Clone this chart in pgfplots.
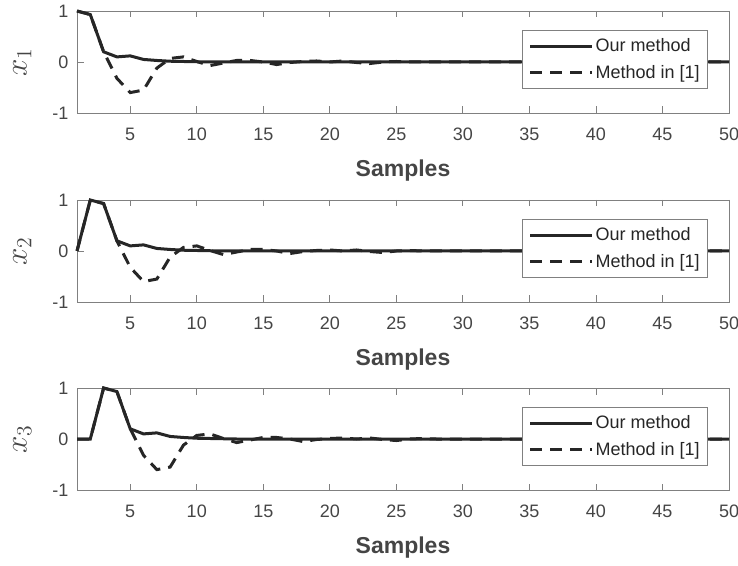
\documentclass[border=0pt]{standalone}
\usepackage{fontspec}
\setmainfont{Liberation Sans}
\usepackage{pgfplots}
\pgfplotsset{compat=1.18}
\definecolor{axgray}{gray}{0.5}
\definecolor{txtgray}{gray}{0.27}
\definecolor{linec}{gray}{0.15}

\pgfplotsset{
  myax/.style={
    scale only axis, width=652pt, height=102pt,
    xmin=1, xmax=50, ymin=-1, ymax=1,
    xtick={5,10,...,50}, ytick={-1,0,1},
    axis line style={axgray, line width=0.8pt},
    tick style={axgray, line width=0.8pt},
    major tick length=6.5pt,
    tick align=inside,
    ticklabel style={font=\fontsize{18}{20}\selectfont, text=txtgray},
    xticklabel style={yshift=-21pt, anchor=center},
    yticklabel style={xshift=-5pt},
    /pgf/number format/assume math mode=true,
    xlabel={Samples},
    xlabel style={font=\fontsize{23}{26}\selectfont\bfseries, text=txtgray,
      at={(axis description cs:0.5,0)}, anchor=center, yshift=-58pt},
    ylabel style={font=\fontsize{20}{24}\selectfont, scale=1.5, text=txtgray,
      at={(axis description cs:-0.084,0.5)}, anchor=center},
    clip=false,
    legend style={at={(0.968,0.814)}, anchor=north east, draw=axgray, fill=white,
      font=\fontsize{18}{20}\selectfont, text=linec, line width=0.8pt,
      inner xsep=6pt, inner ysep=6.5pt, row sep=8pt},
    legend cell align=left,
    legend image code/.code={\draw[##1] (0pt,0pt) -- (62pt,0pt);},
    anchor=south west,
  },
  solidl/.style={linec, line width=3pt, mark=none},
  dashl/.style={linec, line width=3pt, mark=none, dash pattern=on 12pt off 8pt},
}

\begin{document}
\begin{tikzpicture}
\useasboundingbox (0,0) rectangle (738pt,565pt);

% ---------- x1 ----------
\begin{axis}[myax, at={(77pt,452pt)}, ylabel={$x_1$}]
\addplot[solidl] coordinates {
(1,1) (2,0.93) (3,0.2) (4,0.1) (5,0.12) (6,0.05) (7,0.03) (8,0.015) (9,0.01) (10,0.005)
(11,0) (12,0) (13,0) (14,0) (15,0) (20,0) (25,0) (30,0) (35,0) (40,0) (45,0) (50,0)};
\addlegendentry{Our method}
\addplot[dashl] coordinates {
(1,1) (2,0.93) (3,0.2) (4,-0.32) (5,-0.6) (6,-0.55) (7,-0.12) (8,0.07) (9,0.1) (10,0.01)
(11,-0.07) (12,-0.02) (13,0.03) (14,0.03) (15,0) (16,-0.05) (17,-0.01) (18,0.01) (19,0.02)
(20,0) (21,0.02) (22,-0.01) (23,-0.03) (24,0) (25,0.01) (26,0) (30,0) (35,0) (40,0) (45,0) (50,0)};
\addlegendentry{Method in [1]}
\end{axis}

% ---------- x2 ----------
\begin{axis}[myax, at={(77pt,263pt)}, ylabel={$x_2$}]
\addplot[solidl] coordinates {
(1,0) (2,1) (3,0.93) (4,0.2) (5,0.1) (6,0.12) (7,0.05) (8,0.03) (9,0.015) (10,0.01) (11,0.005)
(12,0) (13,0) (14,0) (15,0) (20,0) (25,0) (30,0) (35,0) (40,0) (45,0) (50,0)};
\addlegendentry{Our method}
\addplot[dashl] coordinates {
(1,0) (2,1) (3,0.93) (4,0.2) (5,-0.32) (6,-0.6) (7,-0.55) (8,-0.12) (9,0.07) (10,0.1) (11,0.01)
(12,-0.07) (13,-0.02) (14,0.03) (15,0.03) (16,0) (17,-0.05) (18,-0.01) (19,0.01) (20,0.02)
(21,0) (22,0.02) (23,-0.01) (24,-0.03) (25,0) (26,0.01) (27,0) (30,0) (35,0) (40,0) (45,0) (50,0)};
\addlegendentry{Method in [1]}
\end{axis}

% ---------- x3 ----------
\begin{axis}[myax, at={(77pt,75pt)}, ylabel={$x_3$}]
\addplot[solidl] coordinates {
(1,0) (2,0) (3,1) (4,0.93) (5,0.2) (6,0.1) (7,0.12) (8,0.05) (9,0.03) (10,0.015) (11,0.01) (12,0.005)
(13,0) (14,0) (15,0) (20,0) (25,0) (30,0) (35,0) (40,0) (45,0) (50,0)};
\addlegendentry{Our method}
\addplot[dashl] coordinates {
(1,0) (2,0) (3,1) (4,0.93) (5,0.2) (6,-0.32) (7,-0.6) (8,-0.55) (9,-0.12) (10,0.07) (11,0.1) (12,0.01)
(13,-0.07) (14,-0.02) (15,0.03) (16,0.03) (17,0) (18,-0.05) (19,-0.01) (20,0.01) (21,0.02)
(22,0) (23,0.02) (24,-0.01) (25,-0.03) (26,0) (27,0.01) (28,0) (30,0) (35,0) (40,0) (45,0) (50,0)};
\addlegendentry{Method in [1]}
\end{axis}
\end{tikzpicture}
\end{document}
